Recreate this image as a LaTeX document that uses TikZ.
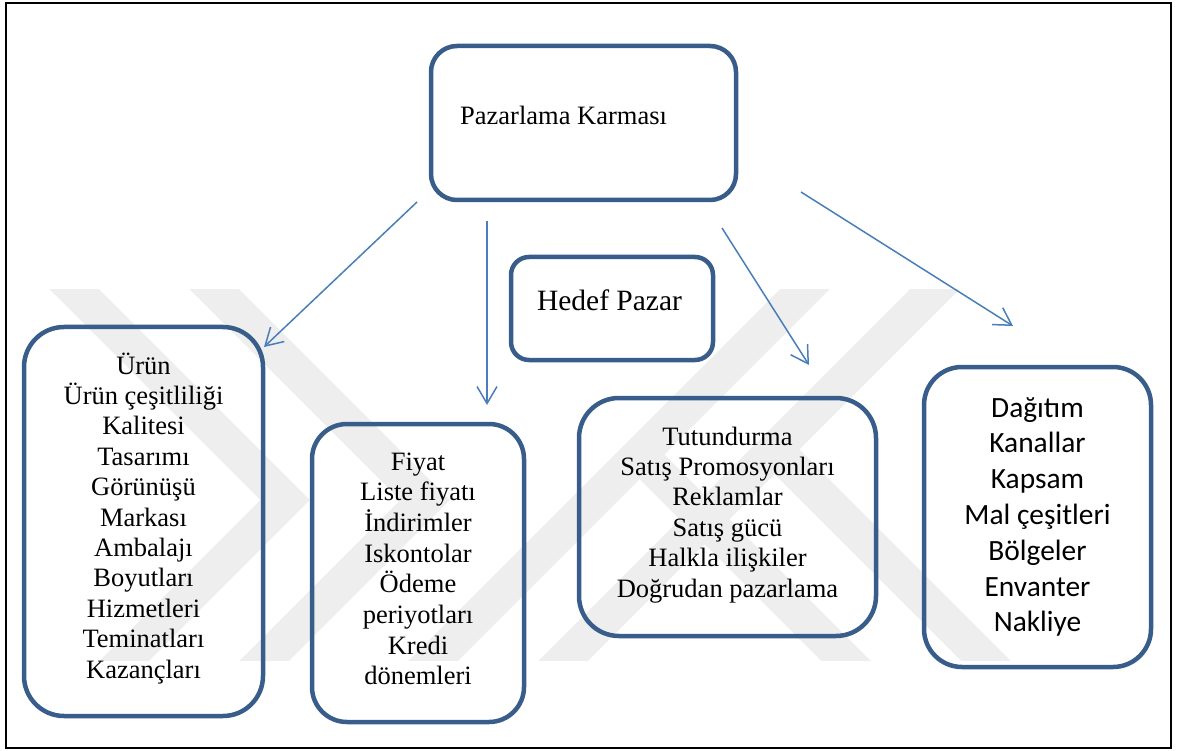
\documentclass[tikz,border=0pt]{standalone}
\usepackage{fontspec}
\setmainfont{Liberation Serif}
\newfontfamily\carlito{Carlito}
\usetikzlibrary{arrows.meta}
\definecolor{boxblue}{RGB}{56,93,138}
\definecolor{arrowblue}{RGB}{74,126,187}
\definecolor{markgray}{RGB}{238,238,238}
\begin{document}
\begin{tikzpicture}[x=1pt,y=-1pt,
  card/.style={draw=boxblue, line width=4.5pt, rounded corners=#1, inner sep=0pt},
  link/.style={draw=arrowblue, line width=1.5pt, -{Straight Barb[length=17pt,width=20pt]}},
  band/.style={draw=markgray, line width=35pt, line join=miter},
  serifline/.style={anchor=base, inner sep=0pt, font=\fontsize{26.5}{30}\selectfont},
  sansline/.style={anchor=base, inner sep=0pt, font=\carlito\fontsize{29.4}{35}\selectfont},
]
\useasboundingbox (0,0) rectangle (1178,751);

% light chevron pattern in the background
\begin{scope}
  \clip (0,290) rectangle (1178,660);
  \draw[band] (45,260) -- (285,500) -- (95,690);
  \draw[band] (185,260) -- (425,500) -- (235,690);
  \draw[band] (834,260) -- (404,690);
  \draw[band] (639.5,454.5) -- (875,690);
  \draw[band] (964,260) -- (534,690);
  \draw[band] (774.5,449.5) -- (1015,690);
\end{scope}

% outer frame
\draw[line width=2.5pt] (6,3) rectangle (1171,748);

% boxes
\node[card=26pt, minimum width=305pt, minimum height=154pt] (mix) at (583.5,123) {};
\node[card=18pt, minimum width=202pt, minimum height=103pt] (target) at (612,308.5) {};
\node[card=40pt, minimum width=239pt, minimum height=389pt] (product) at (143.5,521.5) {};
\node[card=35pt, minimum width=212pt, minimum height=298pt] (price) at (418,573) {};
\node[card=40pt, minimum width=297pt, minimum height=238pt] (promo) at (727.5,517) {};
\node[card=38pt, minimum width=227pt, minimum height=300pt] (place) at (1037.5,517) {};

% box titles
\node[anchor=base west, inner sep=0pt, font=\fontsize{26.5}{30}\selectfont] (mixtext) at (460,125) {Pazarlama Karması};
\node[anchor=base, inner sep=0pt, font=\fontsize{29.5}{34}\selectfont] (targettext) at (609.5,311) {Hedef Pazar};

% list contents
\foreach \t [count=\i from 0] in {Ürün, Ürün çeşitliliği, Kalitesi, Tasarımı, Görünüşü, Markası, Ambalajı, Boyutları, Hizmetleri, Teminatları, Kazançları}
  \node[serifline] (product-\i) at (143.5,374+30.4*\i) {\t};
\foreach \t [count=\i from 0] in {Fiyat, Liste fiyatı, İndirimler, Iskontolar, Ödeme, periyotları, Kredi, dönemleri}
  \node[serifline] (price-\i) at (418,470+30.7*\i) {\t};
\foreach \t [count=\i from 0] in {Tutundurma, Satış Promosyonları, Reklamlar, Satış gücü, Halkla ilişkiler, Doğrudan pazarlama}
  \node[serifline] (promo-\i) at (727.5,445+30.4*\i) {\t};
\foreach \t [count=\i from 0] in {Dağıtım, Kanallar, Kapsam, Mal çeşitleri, Bölgeler, Envanter, Nakliye}
  \node[sansline] (place-\i) at (1037.5,417+35.8*\i) {\t};

% arrow end points
\coordinate (a1s) at (417,202);
\coordinate (a1e) at (264,347);
\coordinate (a2s) at (487,221);
\coordinate (a2e) at (487,405);
\coordinate (a3s) at (722,228);
\coordinate (a3e) at (809,365);
\coordinate (a4s) at (801,192);
\coordinate (a4e) at (1013,326);

\draw[link] (a1s) -- (a1e);
\draw[link] (a2s) -- (a2e);
\draw[link] (a3s) -- (a3e);
\draw[link] (a4s) -- (a4e);
\end{tikzpicture}
\end{document}
